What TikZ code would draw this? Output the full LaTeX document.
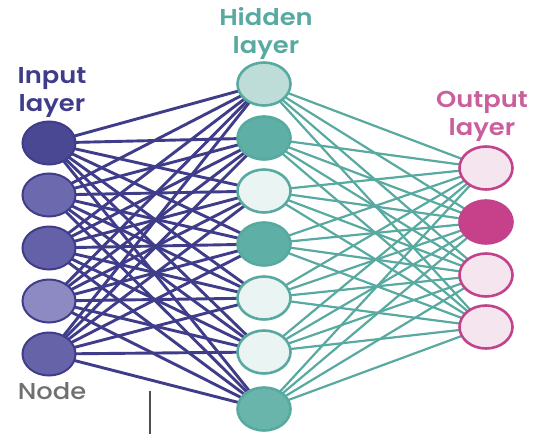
\documentclass[tikz,border=0pt]{standalone}
\usepackage{fontspec}
\setmainfont{Poppins SemiBold}
\newfontfamily\mediumfont{Poppins Medium}
\usetikzlibrary{shapes.geometric}
\pgfdeclarelayer{paper}
\pgfdeclarelayer{edges}
\pgfsetlayers{paper,edges,main}
\definecolor{inpurple}{HTML}{3F3C8A}
\definecolor{hidteal}{HTML}{58AAA0}
\definecolor{outmag}{HTML}{C2438C}
\definecolor{labelgray}{HTML}{707070}
\newcommand{\wide}[1]{\scalebox{1.12}[1]{#1}}
\begin{document}
\begin{tikzpicture}[x=1pt,y=-1pt,
  inedge/.style={draw=inpurple,line width=2.9pt},
  hidedge/.style={draw=hidteal,line width=2.2pt},
  neuron/.style={ellipse,minimum width=53pt,minimum height=43pt,inner sep=0pt},
  innode/.style={neuron,draw=inpurple,line width=2pt},
  hidnode/.style={neuron,draw=hidteal,line width=2.6pt},
  outnode/.style={neuron,draw=outmag,line width=2.6pt},
  lbl/.style={align=center,font=\fontsize{23}{28}\selectfont}]
\begin{pgfonlayer}{paper}
  \fill[white] (0,0) rectangle (541,434);
\end{pgfonlayer}
\useasboundingbox (0,0) rectangle (541,434);

% input layer
\foreach \i/\y/\c in {1/143/4A4893, 2/195/6C69AE, 3/248/6461A8, 4/301/8C89C3, 5/354/6663A9}{
  \definecolor{fillc}{HTML}{\c}
  \node[innode,fill=fillc] (i\i) at (49,\y) {};
}
% hidden layer
\foreach \i/\y/\c in {1/84/BEDDD9, 2/138/5EB0A6, 3/191/E9F4F3, 4/244/5EB0A6, 5/298/E9F4F3, 6/352/E9F4F3, 7/409/69B5AB}{
  \definecolor{fillc}{HTML}{\c}
  \node[hidnode,fill=fillc] (h\i) at (264,\y) {};
}
% output layer
\foreach \i/\y/\c in {1/168/F4E5EF, 2/222/C6408A, 3/275/F4E5EF, 4/327/F4E5EF}{
  \definecolor{fillc}{HTML}{\c}
  \node[outnode,fill=fillc] (o\i) at (486,\y) {};
}

% connections, drawn behind the neurons
\begin{pgfonlayer}{edges}
  \foreach \a in {1,...,5}{
    \foreach \b in {1,...,7}{
      \draw[inedge] (i\a.center) -- (h\b.center);
    }
  }
  \foreach \a in {1,...,7}{
    \foreach \b in {1,...,4}{
      \draw[hidedge] (h\a.center) -- (o\b.center);
    }
  }
\end{pgfonlayer}

% labels
\node[lbl,text=inpurple] (inlbl) at (52,92) {\wide{Input}\\\wide{layer}};
\node[lbl,text=hidteal] (hidlbl) at (266,33) {\wide{Hidden}\\\wide{layer}};
\node[lbl,text=outmag!85] (outlbl) at (482,116) {\wide{Output}\\\wide{layer}};
\node[lbl,text=labelgray,font=\mediumfont\fontsize{23}{28}\selectfont] (nodelbl) at (52,391) {\wide{Node}};
\coordinate (tickTop) at (150,391);
\coordinate (tickBot) at (150,434);
\draw[line width=1.6pt,draw=labelgray!70!black] (tickTop) -- (tickBot);
\end{tikzpicture}
\end{document}
